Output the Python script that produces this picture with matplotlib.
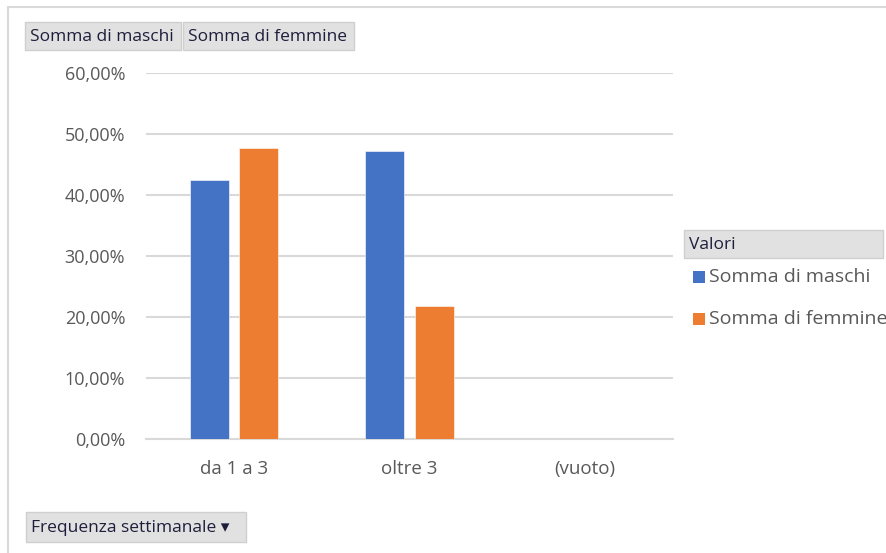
import matplotlib
matplotlib.use('Agg')
import matplotlib.pyplot as plt
import numpy as np
from matplotlib.patches import Rectangle
from matplotlib.ticker import FuncFormatter

W, H = 887, 553

categories = ['da 1 a 3', 'oltre 3', '(vuoto)']
maschi = [0.4246, 0.4721, 0.0]
femmine = [0.4782, 0.2190, 0.0]
series_names = ['Somma di maschi', 'Somma di femmine']
field_buttons = ['Somma di maschi', 'Somma di femmine']
legend_title = 'Valori'
axis_button = 'Frequenza settimanale \u25BE'

BLUE = '#4472C4'
ORANGE = '#ED7D31'
GRID = '#D9D9D9'
LABEL = '#595959'
BUTTON_TEXT = '#1E1E3C'
FONT = ['Open Sans', 'DejaVu Sans']


def _fx(x):
    return x / W


def _fy(y):
    return 1.0 - y / H


def _button(fig, x0, y0, x1, y1, text, fontsize=12.5):
    # Pivot field button: grey box with a slightly darker border.
    rect = Rectangle((_fx(x0), _fy(y1)), _fx(x1) - _fx(x0), _fy(y0) - _fy(y1),
                     transform=fig.transFigure, facecolor='#E1E1E1',
                     edgecolor='#CFCFCF', linewidth=1)
    fig.patches.append(rect)
    fig.text(_fx(x0 + 5), _fy((y0 + y1) / 2 + 1), text, ha='left', va='center',
             fontsize=fontsize, color=BUTTON_TEXT, family=FONT)


fig = plt.figure(figsize=(W / 100, H / 100), dpi=100)
fig.patch.set_facecolor('white')

# Outer chart frame.
frame = Rectangle((_fx(8), _fy(H + 5)), _fx(W + 5) - _fx(8), _fy(7) - _fy(H + 5),
                  transform=fig.transFigure, facecolor='none',
                  edgecolor='#D9D9D9', linewidth=1.5)
fig.patches.append(frame)

ax = fig.add_axes([_fx(146), _fy(439.3), _fx(673) - _fx(146), _fy(73.3) - _fy(439.3)])

x = np.arange(len(categories))
bar_width = 0.222
offset = 0.14
ax.bar(x - offset, maschi, bar_width, color=BLUE, edgecolor='white', linewidth=0.4, zorder=3)
ax.bar(x + offset, femmine, bar_width, color=ORANGE, edgecolor='white', linewidth=0.4, zorder=3)

ax.set_xlim(-0.5, len(categories) - 0.5)
ax.set_ylim(0, 0.6)
ax.set_yticks(np.arange(0, 0.61, 0.1))
ax.yaxis.set_major_formatter(FuncFormatter(lambda v, _: f'{v * 100:.2f}%'.replace('.', ',')))
ax.set_xticks(x)
ax.set_xticklabels(categories)

ax.grid(axis='y', color=GRID, linewidth=1.5, zorder=0)
for side in ['top', 'right', 'left']:
    ax.spines[side].set_visible(False)
ax.spines['bottom'].set_color(GRID)
ax.spines['bottom'].set_linewidth(1.5)

ax.tick_params(axis='both', length=0, colors=LABEL)
ax.tick_params(axis='y', pad=15, labelsize=13)
ax.tick_params(axis='x', pad=15, labelsize=13.5)
for lbl in ax.get_xticklabels() + ax.get_yticklabels():
    lbl.set_family(FONT)

# Field buttons.
_button(fig, 25, 22, 181, 50, field_buttons[0])
_button(fig, 183, 22, 354, 50, field_buttons[1])
_button(fig, 26, 512, 246, 542, axis_button)
_button(fig, 684, 230, 883, 258, legend_title)

# Legend entries.
for i, (name, color) in enumerate(zip(series_names, [BLUE, ORANGE])):
    yc = 277 + i * 42
    sq = Rectangle((_fx(693), _fy(yc + 6)), _fx(705) - _fx(693), _fy(yc - 6) - _fy(yc + 6),
                   transform=fig.transFigure, facecolor=color, edgecolor='none')
    fig.patches.append(sq)
    fig.text(_fx(709), _fy(yc), name, ha='left', va='center', fontsize=14,
             color=LABEL, family=FONT)

fig.savefig('out.png', dpi=100)
